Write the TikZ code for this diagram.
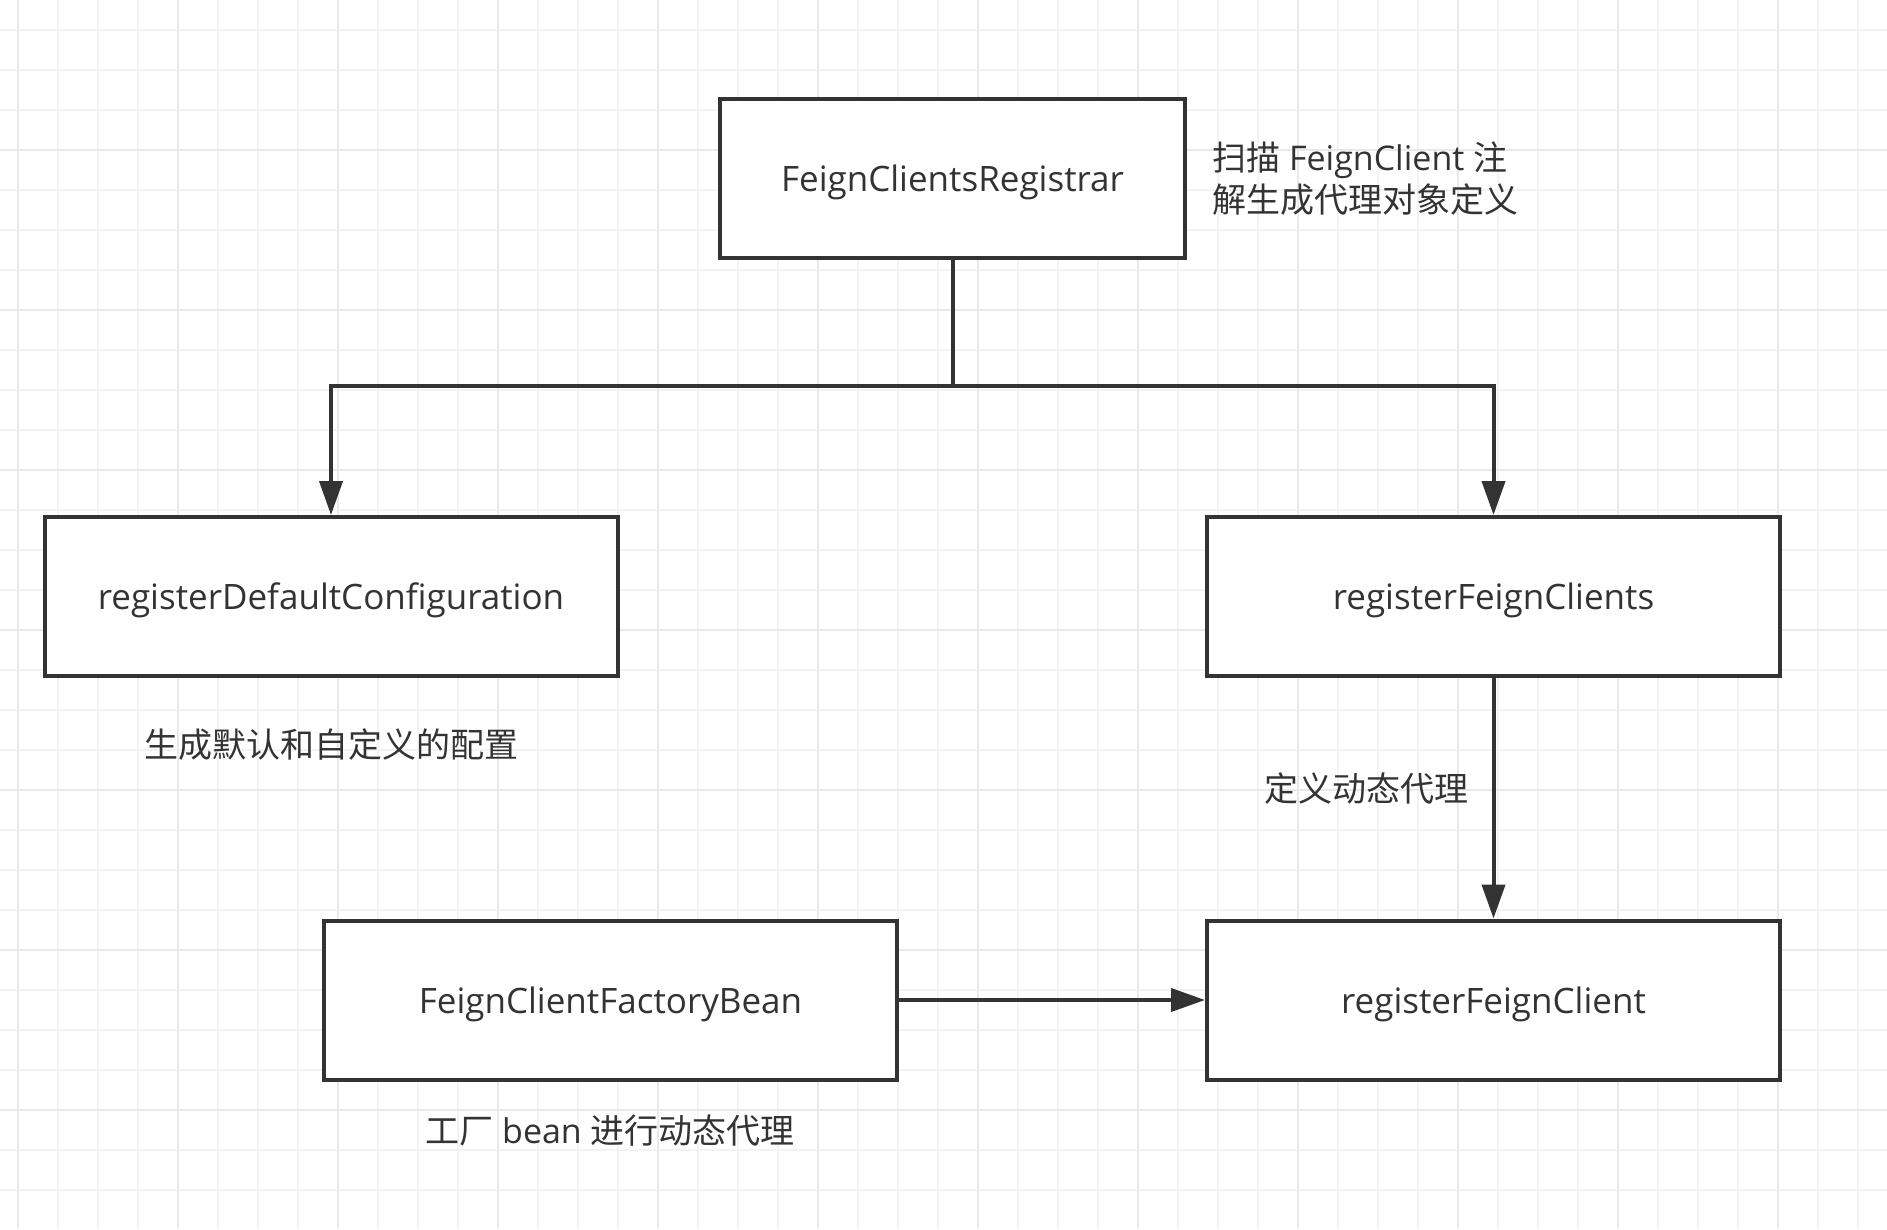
\documentclass[tikz,border=0pt]{standalone}
\usepackage{fontspec}
\setmainfont{Open Sans}
\newfontfamily\cjk{Noto Sans CJK SC}
\usetikzlibrary{arrows.meta}
\definecolor{ink}{HTML}{333333}
\definecolor{gridminor}{HTML}{F3F3F3}
\definecolor{gridmajor}{HTML}{E9E9E9}

\tikzset{
  box/.style={draw=ink, line width=4pt, fill=white, minimum height=159pt,
    text=ink, font=\fontsize{35pt}{40pt}\selectfont, inner sep=0pt, text depth=0pt},
  wide/.style={box, minimum width=573pt},
  note/.style={text=ink, font=\fontsize{34pt}{42pt}\selectfont, inner sep=0pt},
  conn/.style={draw=ink, line width=4pt},
  arr/.style={conn, -{Triangle[width=23pt,length=34pt]}},
}

\begin{document}
\begin{tikzpicture}[x=1pt,y=-1pt]
\useasboundingbox (0,0) rectangle (1887,1229);
\fill[white] (0,0) rectangle (1887,1229);

% background grid
\foreach \gx in {18,58,...,1887} \draw[gridminor, line width=1.5pt] (\gx,0) -- (\gx,1229);
\foreach \gy in {30,70,...,1229} \draw[gridminor, line width=1.5pt] (0,\gy) -- (1887,\gy);
\foreach \gx in {18,178,...,1887} \draw[gridmajor, line width=2pt] (\gx,0) -- (\gx,1229);
\foreach \gy in {150,310,...,1229} \draw[gridmajor, line width=2pt] (0,\gy) -- (1887,\gy);

% boxes
\node[box, minimum width=465pt] (reg) at (952.5,178.5) {FeignClientsRegistrar};
\node[wide] (defcfg) at (331,596.5) {registerDefaultConfiguration};
\node[wide] (clients) at (1493.5,596.5) {registerFeignClients};
\node[wide] (client) at (1493.5,1000) {registerFeignClient};
\node[wide] (factory) at (610.5,1000) {FeignClientFactoryBean};

% annotations
\node[note, anchor=west, align=left] (regnote) at (1212,179)
  {{\cjk 扫描} FeignClient {\cjk 注}\\{\cjk 解生成代理对象定义}};
\node[note] (defnote) at (331,745) {\cjk 生成默认和自定义的配置};
\node[note] (proxynote) at (1366,788) {\cjk 定义动态代理};
\node[note] (factnote) at (610,1131) {{\cjk 工厂} bean {\cjk 进行动态代理}};

% connectors
\coordinate (split) at (952.5,386);
\draw[conn] (reg.south) -- (split);
\draw[arr] (split) -| (defcfg.north);
\draw[arr] (split) -| (clients.north);
\draw[arr] (clients.south) -- (client.north);
\draw[arr] (factory.east) -- (client.west);
\end{tikzpicture}
\end{document}
